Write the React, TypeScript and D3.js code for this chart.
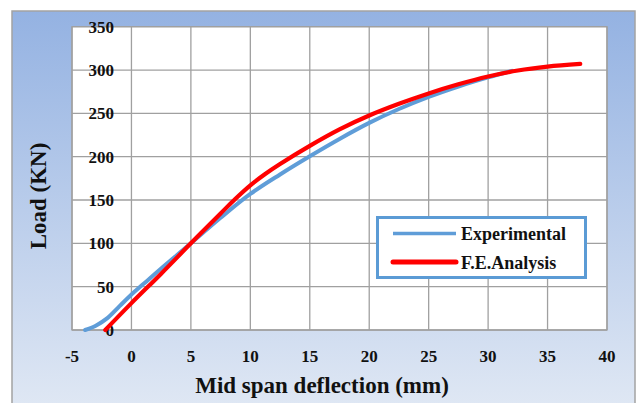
import React from "react";
import * as d3 from "d3";

const expX = [-3.9, -3, -2, -1, 0, 1, 2.5, 5, 7.5, 10, 12.5, 15, 17.5, 20, 22.5, 25, 27.5, 30, 32.0];
const expY = [0, 5, 14, 27.5, 41, 53, 71, 100, 129.5, 157, 179.5, 200.5, 220.5, 239, 255, 269, 281, 291.5, 299];
const feX = [-2.2, 0, 2.5, 5, 7.5, 8.75, 10, 11.25, 12.5, 15, 17.5, 20, 22.5, 25, 27.5, 30, 32.5, 35, 37.75];
const feY = [0, 31, 65, 100, 134.5, 151.5, 167, 180, 191.5, 212.5, 231.5, 247.5, 261, 273, 283.5, 292.5, 299.5, 304, 307];
const xTicks = [-5, 0, 5, 10, 15, 20, 25, 30, 35, 40];
const yTicks = [0, 50, 100, 150, 200, 250, 300, 350];
const seriesNames = ["Experimental", "F.E.Analysis"];

export default function App() {
  const L = 72, R = 607, T = 26.7, B = 330;
  const x = d3.scaleLinear().domain([-5, 40]).range([L, R]);
  const y = d3.scaleLinear().domain([0, 350]).range([B, T]);
  const line = d3
    .line<[number, number]>()
    .x((d) => x(d[0]))
    .y((d) => y(d[1]))
    .curve(d3.curveCatmullRom.alpha(0.5));
  const expPts = expX.map((v, i) => [v, expY[i]] as [number, number]);
  const fePts = feX.map((v, i) => [v, feY[i]] as [number, number]);
  const font = "'Liberation Serif', 'Times New Roman', serif";
  return (
    <svg width={636} height={403} style={{ position: "absolute", left: 0, top: 0 }}>
      <defs>
        <linearGradient id="bg" x1="0" y1="0" x2="0" y2="1">
          <stop offset="0" stopColor="#94b2e2" />
          <stop offset="1" stopColor="#e0e8f4" />
        </linearGradient>
      </defs>
      <rect x={0} y={0} width={636} height={403} fill="#fff" />
      <rect x={12} y={11} width={623} height={400} fill="url(#bg)" stroke="#a3a3a3" strokeWidth={1.5} />
      <rect x={L} y={T} width={R - L} height={B - T} fill="#fff" />
      {xTicks.map((t) => (
        <line key={"gx" + t} x1={x(t)} x2={x(t)} y1={T} y2={B} stroke="#a0a0a0" strokeWidth={1.3} />
      ))}
      {yTicks.map((t) => (
        <line key={"gy" + t} x1={L} x2={R} y1={y(t)} y2={y(t)} stroke="#a0a0a0" strokeWidth={1.3} />
      ))}
      <rect x={L} y={T} width={R - L} height={B - T} fill="none" stroke="#a0a0a0" strokeWidth={1.3} />
      {yTicks.map((t) => (
        <text
          key={"ty" + t}
          x={114}
          y={y(t)}
          dy="0.35em"
          textAnchor="end"
          fontFamily={font}
          fontWeight="bold"
          fontSize={17}
          fill="#111"
        >
          {t}
        </text>
      ))}
      {xTicks.map((t) => (
        <text
          key={"tx" + t}
          x={x(t)}
          y={356}
          dy="0.35em"
          textAnchor="middle"
          fontFamily={font}
          fontWeight="bold"
          fontSize={17}
          fill="#111"
        >
          {t}
        </text>
      ))}
      <path d={line(expPts) || ""} fill="none" stroke="#5f9dd8" strokeWidth={4} strokeLinecap="round" />
      <path d={line(fePts) || ""} fill="none" stroke="#ff0000" strokeWidth={4.2} strokeLinecap="round" />
      <text
        x={322}
        y={393}
        textAnchor="middle"
        fontFamily={font}
        fontWeight="bold"
        fontSize={23}
        fill="#111"
      >
        Mid span deflection (mm)
      </text>
      <text
        transform="translate(46,196) rotate(-90)"
        textAnchor="middle"
        fontFamily={font}
        fontWeight="bold"
        fontSize={23}
        fill="#111"
      >
        Load (KN)
      </text>
      <rect x={377.5} y={217.5} width={208} height={60} fill="#fff" stroke="#5b9bd5" strokeWidth={3} />
      <line x1={393} x2={456} y1={233.5} y2={233.5} stroke="#5f9dd8" strokeWidth={3.5} />
      <line x1={393} x2={456} y1={262} y2={262} stroke="#ff0000" strokeWidth={5} strokeLinecap="round" />
      <text x={461} y={233.5} dy="0.35em" fontFamily={font} fontWeight="bold" fontSize={18} fill="#111">
        {seriesNames[0]}
      </text>
      <text x={461} y={263} dy="0.35em" fontFamily={font} fontWeight="bold" fontSize={18} fill="#111">
        {seriesNames[1]}
      </text>
    </svg>
  );
}
